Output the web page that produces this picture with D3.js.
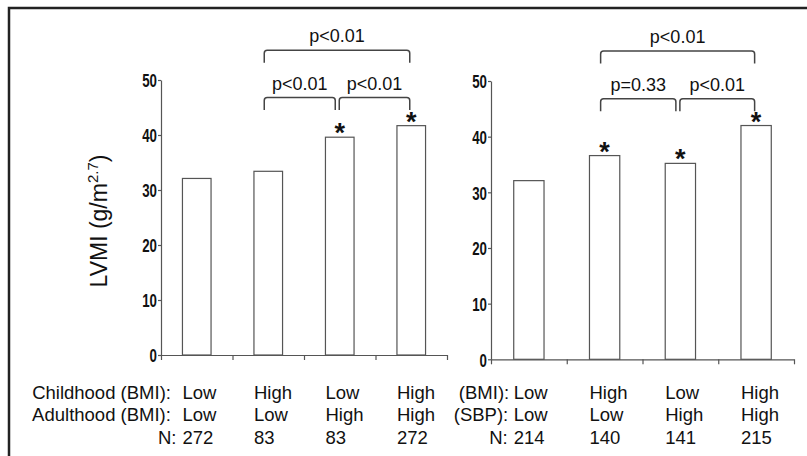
<!DOCTYPE html>
<html>
<head>
<meta charset="utf-8">
<script src="https://d3js.org/d3.v7.min.js"></script>
<style>
body { margin: 0; background: #fff; }
svg { display: block; }
text { font-family: "Liberation Sans", Arial, sans-serif; fill: #111; }
.domain, .tick line { stroke: #555; stroke-width: 1.2px; }
.bar { fill: #fff; stroke: #555; stroke-width: 1.2px; }
.bracket { fill: none; stroke: #444; stroke-width: 1.5px; }
</style>
</head>
<body>
<script>
// data
var yTicks = [0, 10, 20, 30, 40, 50];

var leftRowLabels = ["Childhood (BMI):", "Adulthood (BMI):", "N:"];
var leftRow1 = ["Low", "High", "Low", "High"];
var leftRow2 = ["Low", "Low", "High", "High"];
var leftN = [272, 83, 83, 272];
var leftValues = [32.1, 33.4, 39.6, 41.7];
var leftStars = [false, false, true, true];
var leftPairs = [[1, 2, "p<0.01", 1], [2, 3, "p<0.01", 1], [1, 3, "p<0.01", 2]];

var rightRowLabels = ["(BMI):", "(SBP):", "N:"];
var rightRow1 = ["Low", "High", "Low", "High"];
var rightRow2 = ["Low", "Low", "High", "High"];
var rightN = [214, 140, 141, 215];
var rightValues = [32.1, 36.6, 35.2, 42.0];
var rightStars = [false, true, true, true];
var rightPairs = [[1, 2, "p=0.33", 1], [2, 3, "p<0.01", 1], [1, 3, "p<0.01", 2]];

var bracketLevels = [0, 46.8, 55.4];

var svg = d3.select("body").append("svg")
    .attr("width", 807)
    .attr("height", 456);

svg.append("rect").attr("width", 807).attr("height", 456).attr("fill", "#fff");

// frame (only top and left edges are in view)
svg.append("path")
    .attr("d", "M9,460V8H810")
    .attr("fill", "none")
    .attr("stroke", "#222")
    .attr("stroke-width", 2.5);

// y label
svg.append("text")
    .attr("transform", "translate(107,221) rotate(-90)")
    .attr("text-anchor", "middle")
    .style("font-size", "23px")
    .html('LVMI (g/m<tspan dy="-9" style="font-size:15px">2.7</tspan><tspan dy="9">)</tspan>');

function panel(opt) {
  var x = d3.scaleBand()
      .domain(d3.range(opt.values.length))
      .range([opt.x0, opt.x1])
      .paddingInner(0.6)
      .paddingOuter(0.3);

  var y = d3.scaleLinear()
      .domain([0, 50])
      .range([opt.yBottom, opt.yTop]);

  var g = svg.append("g");

  // x axis: ticks at category boundaries
  var xb = d3.scaleLinear().domain([0, opt.values.length]).range([opt.x0, opt.x1]);
  g.append("g")
      .attr("transform", "translate(0," + opt.yBottom + ")")
      .call(d3.axisBottom(xb).tickValues(d3.range(opt.values.length + 1))
        .tickFormat("").tickSizeInner(5).tickSizeOuter(0));

  var ya = g.append("g")
      .attr("transform", "translate(" + opt.x0 + ",0)")
      .call(d3.axisLeft(y).tickValues(yTicks).tickSizeInner(3).tickSizeOuter(0).tickPadding(1));
  // squeeze the bold tick numbers like a narrow face
  ya.selectAll(".tick text")
      .attr("x", -4 / 0.7)
      .attr("dy", "0.36em")
      .attr("transform", "scale(0.7,1)")
      .style("font-family", "'Liberation Sans', Arial, sans-serif")
      .style("font-weight", "bold")
      .style("font-size", "19px")
      .style("fill", "#111");

  g.selectAll(".bar")
      .data(opt.values)
    .enter().append("rect")
      .attr("class", "bar")
      .attr("x", function(d, i) { return x(i); })
      .attr("width", x.bandwidth())
      .attr("y", function(d) { return y(d); })
      .attr("height", function(d) { return opt.yBottom - y(d); });

  // significance stars
  var starred = opt.values
      .map(function(v, i) { return { v: v, i: i }; })
      .filter(function(d) { return opt.stars[d.i]; });
  g.selectAll(".star")
      .data(starred)
    .enter().append("text")
      .attr("class", "star")
      .attr("text-anchor", "middle")
      .attr("x", function(d) { return x(d.i) + x.bandwidth() / 2; })
      .attr("y", function(d) { return y(d.v) + 5; })
      .style("font-size", "27px")
      .style("font-weight", "bold")
      .text("*");

  // brackets
  var cx = function(i) { return x(i) + x.bandwidth() / 2; };
  opt.pairs.forEach(function(p) {
    var x1 = cx(p[0]) + (p[3] === 1 && opt.pairs.some(function(q) { return q[3] === 1 && q[1] === p[0]; }) ? -0.5 : -4);
    var x2 = cx(p[1]) + (p[3] === 1 && opt.pairs.some(function(q) { return q[3] === 1 && q[0] === p[1]; }) ? -4.5 : -1.5);
    var yt = y(bracketLevels[p[3]]), yb = yt + 12.5, r = 3;
    g.append("path")
        .attr("class", "bracket")
        .attr("d", "M" + x1 + "," + yb + "V" + (yt + r) + "Q" + x1 + "," + yt + " " + (x1 + r) + "," + yt +
                   "H" + (x2 - r) + "Q" + x2 + "," + yt + " " + x2 + "," + (yt + r) + "V" + yb);
    g.append("text")
        .attr("x", (x1 + x2) / 2)
        .attr("y", yt - 8)
        .attr("text-anchor", "middle")
        .style("font-size", "18px")
        .text(p[2]);
  });

  // category rows under the axis
  var rows = [opt.row1, opt.row2, opt.n];
  var rowY = [399, 421, 444];
  rows.forEach(function(row, r) {
    g.selectAll(".row" + r)
        .data(row)
      .enter().append("text")
        .attr("x", function(d, i) { return x(i); })
        .attr("y", rowY[r])
        .style("font-size", "18.5px")
        .text(function(d) { return d; });
    g.append("text")
        .attr("x", x(0) - opt.labelGap[r])
        .attr("y", rowY[r])
        .attr("text-anchor", "end")
        .style("font-size", "18.5px")
        .text(opt.rowLabels[r]);
  });
}

panel({
  x0: 161, x1: 447, yBottom: 355, yTop: 80,
  values: leftValues, stars: leftStars, pairs: leftPairs,
  row1: leftRow1, row2: leftRow2, n: leftN, rowLabels: leftRowLabels,
  labelGap: [11.5, 11.5, 6]
});

panel({
  x0: 491, x1: 794, yBottom: 359.3, yTop: 81,
  values: rightValues, stars: rightStars, pairs: rightPairs,
  row1: rightRow1, row2: rightRow2, n: rightN, rowLabels: rightRowLabels,
  labelGap: [4.5, 5.5, 6]
});
</script>
</body>
</html>
